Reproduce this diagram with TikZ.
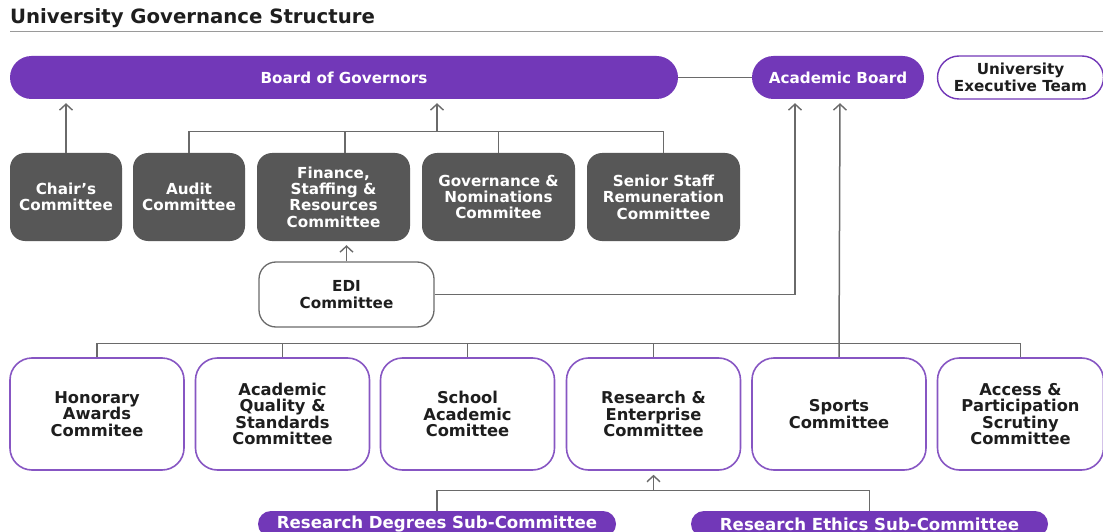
\documentclass[tikz,border=0pt]{standalone}
\usepackage{fontspec}
\setmainfont{DejaVu Sans}
\usetikzlibrary{arrows.meta}
\definecolor{brand}{HTML}{7238B8}
\definecolor{slate}{HTML}{575757}
\definecolor{wire}{HTML}{6A6A6A}
\definecolor{ink}{HTML}{1E1E1E}
\definecolor{rule}{HTML}{9A9A9A}

\begin{document}
\begin{tikzpicture}[x=1pt,y=-1pt,
  every node/.style={font=\bfseries\fontsize{15.2}{16.4}\selectfont, align=center, inner sep=0pt},
  pillbox/.style={fill=brand, text=white, rounded corners=21.5pt, minimum height=43pt},
  outlinepill/.style={fill=white, draw=brand, line width=1.4pt, text=ink, rounded corners=21.5pt, minimum height=43pt},
  darkbox/.style={fill=slate, text=white, rounded corners=15pt, minimum height=88pt},
  edibox/.style={fill=white, draw=wire, line width=1.3pt, text=ink, rounded corners=17pt, minimum width=175pt, minimum height=65pt},
  lowbox/.style={fill=white, draw=brand!85!white, line width=1.6pt, text=ink, rounded corners=22pt, minimum width=174pt, minimum height=112pt, font=\bfseries\fontsize{16.3}{16.4}\selectfont},
  subpill/.style={fill=brand, text=white, rounded corners=13pt, minimum height=26pt, font=\bfseries\fontsize{16.6}{18}\selectfont},
  link/.style={draw=wire, line width=1.5pt},
  uparrow/.style={link, -{Straight Barb[length=6pt,width=13pt,line width=1.4pt]}, shorten >=4pt}
]
\useasboundingbox (0,0) rectangle (1103,532);
\clip (0,0) rectangle (1103,532);
\fill[white] (0,0) rectangle (1103,532);

% heading
\node[anchor=west, text=ink, font=\bfseries\fontsize{19.7}{22}\selectfont] (title) at (10,18) {University Governance Structure};
\draw[rule, line width=1pt] (10,31.5) -- (1103,31.5);

% top tier
\node[pillbox, minimum width=668pt] (bog) at (344,77.5) {Board of Governors};
\node[pillbox, minimum width=172pt] (ab) at (838,77.5) {Academic Board};
\node[outlinepill, minimum width=166pt] (uet) at (1020.5,77.5) {University\\Executive Team};
\draw[link] (bog.east) -- (ab.west);

% board committees
\node[darkbox, minimum width=112pt] (chair)  at (66,197)    {Chair's\\Committee};
\node[darkbox, minimum width=112pt] (audit)  at (189,197)   {Audit\\Committee};
\node[darkbox, minimum width=153pt] (fin)    at (333.5,197) {Finance,\\Staffing \&\\Resources\\Committee};
\node[darkbox, minimum width=153pt] (gov)    at (498.5,197) {Governance \&\\Nominations\\Commitee};
\node[darkbox, minimum width=153pt] (senior) at (663.5,197) {Senior Staff\\Remuneration\\Committee};

\draw[uparrow] (chair.north) -- (chair.north |- bog.south);
\coordinate (bj) at (437,131.5);
\draw[link] (audit.north) |- (senior.north |- bj) -- (senior.north);
\draw[link] ([xshift=11.5pt]fin.north) -- ([xshift=11.5pt]fin.north |- bj);
\draw[link] (gov.north) -- (gov.north |- bj);
\draw[uparrow] (bj) -- (bj |- bog.south);

% EDI
\node[edibox] (edi) at (346.5,294.5) {EDI\\Committee};
\draw[uparrow] (edi.north) -- (edi.north |- fin.south);
\draw[uparrow] (edi.east) -| ([xshift=-43pt]ab.south);

% academic board committees
\node[lowbox] (hon)    at (97,414)     {Honorary\\Awards\\Commitee};
\node[lowbox] (aqs)    at (282.5,414)  {Academic\\Quality \&\\Standards\\Committee};
\node[lowbox] (sac)    at (467.5,414)  {School\\Academic\\Comittee};
\node[lowbox] (re)     at (653.5,414)  {Research \&\\Enterprise\\Committee};
\node[lowbox] (sports) at (839,414)    {Sports\\Committee};
\node[lowbox, minimum width=166pt] (acc) at (1020.5,414) {Access \&\\Participation\\Scrutiny\\Committee};

\coordinate (lj) at (839,343.5);
\draw[link] (hon.north) |- (acc.north |- lj) -- (acc.north);
\draw[link] (aqs.north) -- (aqs.north |- lj);
\draw[link] (sac.north) -- (sac.north |- lj);
\draw[link] (re.north) -- (re.north |- lj);
\draw[uparrow] (sports.north) -- ([xshift=2pt]ab.south |- ab.south);

% research sub-committees
\node[subpill, minimum width=358pt] (rdsc) at (437,524)   {Research Degrees Sub-Committee};
\node[subpill, minimum width=357pt] (resc) at (869.5,524) {Research Ethics Sub-Committee};
\coordinate (sj) at (653.5,490.5);
\draw[link] (rdsc.north) |- (resc.north |- sj) -- (resc.north);
\draw[uparrow] (sj) -- (re.south);
\end{tikzpicture}
\end{document}
